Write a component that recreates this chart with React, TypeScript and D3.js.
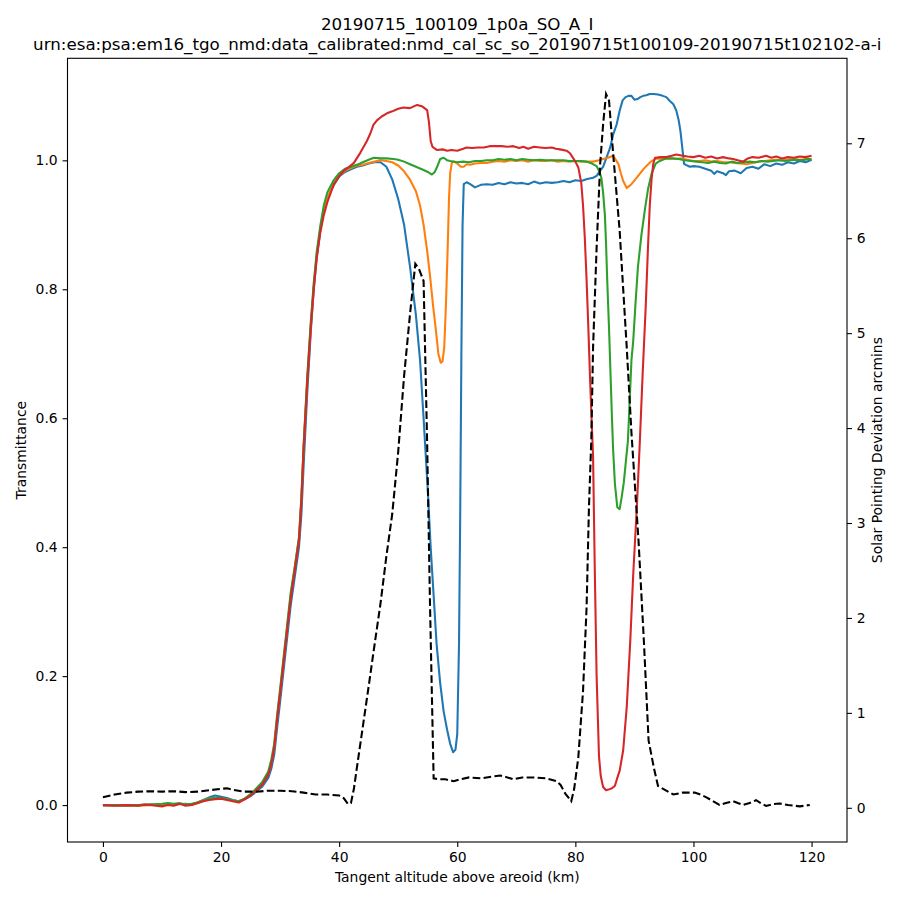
import { useEffect, useRef } from "react";
import * as d3 from "d3";

type Pt = [number, number];

// transmittance, bin 1 (blue)
const blueSeries: Pt[] = [
  [0, 0.0], [2, 0.0], [4, -0.001], [6, 0.0], [8, 0.001], [10, 0.0], [12, 0.001], [14, 0.002], [15, 0.001],
  [16, 0.004], [17, 0.008], [18, 0.012], [19, 0.015], [20, 0.013], [21, 0.011], [22, 0.008], [23, 0.006],
  [24, 0.009], [25, 0.014], [26, 0.021], [27, 0.029], [28, 0.042], [28.5, 0.056], [29, 0.078], [29.5, 0.12],
  [30, 0.16], [30.6, 0.21], [31.2, 0.26], [31.8, 0.31], [32.5, 0.355], [33.2, 0.4], [33.6, 0.45], [34, 0.53],
  [34.6, 0.64], [35.2, 0.735], [35.7, 0.8], [36.2, 0.85], [36.8, 0.89], [37.4, 0.92], [38, 0.94], [39, 0.96],
  [40, 0.975], [41, 0.982], [42, 0.986], [43, 0.99], [44, 0.992], [45, 0.995], [46, 0.997], [47, 0.997],
  [48, 0.99], [49, 0.97], [50, 0.94], [51, 0.9], [52, 0.835], [53, 0.76], [53.7, 0.69], [54.3, 0.6],
  [55, 0.49], [55.5, 0.4], [56, 0.325], [56.5, 0.25], [57.1, 0.19], [57.7, 0.145], [58.3, 0.116],
  [58.8, 0.095], [59.3, 0.082], [59.7, 0.086], [60, 0.11], [60.3, 0.25], [60.5, 0.45], [60.7, 0.7],
  [60.9, 0.9], [61.1, 0.963], [61.6, 0.966], [62.2, 0.963], [63, 0.958], [63.5, 0.96], [64, 0.962],
  [65, 0.963], [66, 0.962], [67, 0.965], [68, 0.963], [69, 0.966], [70, 0.964], [71, 0.965], [72, 0.963],
  [73, 0.967], [74, 0.964], [75, 0.966], [76, 0.965], [77, 0.966], [78, 0.968], [79, 0.966], [80, 0.969],
  [81, 0.968], [82, 0.971], [83, 0.973], [83.6, 0.976], [84.2, 0.984], [84.7, 0.99], [85.3, 1.005],
  [85.9, 1.02], [86.4, 1.04], [87, 1.056], [87.5, 1.077], [88, 1.093], [88.5, 1.098], [89, 1.1], [89.5, 1.1],
  [90, 1.094], [90.5, 1.095], [91, 1.098], [91.5, 1.1], [92, 1.101], [92.6, 1.103], [93.2, 1.103],
  [94, 1.102], [94.8, 1.1], [95.4, 1.098], [96, 1.092], [96.6, 1.087], [97.1, 1.077], [97.5, 1.062],
  [97.8, 1.045], [98.1, 1.02], [98.4, 0.995], [98.7, 0.993], [99.4, 0.99], [100, 0.991], [101, 0.99],
  [102, 0.987], [103, 0.984], [103.5, 0.979], [104, 0.983], [105, 0.98], [105.5, 0.977], [106, 0.983],
  [107, 0.984], [108, 0.98], [109, 0.988], [110, 0.99], [111, 0.987], [112, 0.994], [113, 0.991],
  [114, 0.995], [115, 0.993], [116, 0.997], [117, 0.995], [118, 0.999], [119, 0.997], [120, 1.001],
];

// transmittance, bin 2 (orange)
const orangeSeries: Pt[] = [
  [0, 0.0], [2, 0.0], [4, 0.0], [6, -0.001], [8, 0.0], [10, 0.001], [12, 0.0], [13, 0.002], [14, 0.001],
  [15, 0.0], [16, 0.004], [17, 0.007], [18, 0.01], [19, 0.011], [20, 0.01], [21, 0.009], [22, 0.007],
  [23, 0.006], [24, 0.01], [25, 0.016], [26, 0.024], [27, 0.033], [28, 0.048], [28.5, 0.065], [29, 0.09],
  [29.5, 0.135], [30, 0.175], [30.6, 0.225], [31.2, 0.275], [31.8, 0.325], [32.5, 0.37], [33.2, 0.415],
  [33.6, 0.475], [34, 0.56], [34.6, 0.66], [35.2, 0.745], [35.7, 0.805], [36.2, 0.852], [36.8, 0.892],
  [37.4, 0.922], [38, 0.942], [39, 0.962], [40, 0.976], [41, 0.984], [42, 0.988], [43, 0.992], [44, 0.993],
  [45, 0.996], [46, 0.998], [47, 1.0], [48, 0.999], [49, 0.997], [50, 0.992], [51, 0.983], [52, 0.97],
  [53, 0.952], [53.7, 0.93], [54.3, 0.9], [54.9, 0.86], [55.4, 0.82], [55.9, 0.775], [56.4, 0.735],
  [56.8, 0.7], [57.2, 0.686], [57.5, 0.688], [57.8, 0.71], [58.1, 0.78], [58.4, 0.87], [58.6, 0.94],
  [58.8, 0.98], [59.1, 0.997], [59.5, 0.998], [60, 0.995], [60.6, 0.99], [61.1, 0.99], [61.6, 0.994],
  [62.2, 0.993], [63, 0.995], [64, 0.996], [65, 0.996], [66, 0.998], [67, 0.999], [68, 0.998], [69, 1.0],
  [70, 0.999], [71, 1.0], [72, 0.998], [73, 1.0], [74, 0.999], [75, 0.999], [76, 1.0], [77, 0.998],
  [78, 0.999], [79, 0.998], [80, 0.999], [81, 0.998], [82, 0.998], [83, 0.998], [84, 1.0], [84.7, 1.002],
  [85.5, 1.004], [86.4, 1.007], [86.9, 1.0], [87.3, 0.994], [87.7, 0.98], [88.1, 0.968], [88.7, 0.957],
  [89.1, 0.96], [89.5, 0.963], [90.2, 0.971], [90.9, 0.979], [91.5, 0.986], [92, 0.991], [92.8, 0.998],
  [93.7, 1.003], [95, 1.002], [96, 1.003], [97, 1.002], [98, 1.003], [99, 1.001], [100, 0.999],
  [101, 0.999], [102, 1.0], [103, 0.998], [104, 0.999], [105, 0.997], [106, 0.997], [107, 0.996],
  [108, 0.995], [109, 0.994], [110, 0.996], [111, 0.998], [112, 0.999], [113, 1.0], [114, 1.001],
  [115, 1.0], [116, 1.001], [117, 1.002], [118, 1.001], [119, 1.002], [120, 1.002],
];

// transmittance, bin 3 (green)
const greenSeries: Pt[] = [
  [0, 0.0], [2, 0.0], [4, 0.0], [6, 0.0], [8, 0.001], [10, 0.002], [11, 0.003], [12, 0.002], [13, 0.003],
  [14, 0.001], [15, 0.002], [16, 0.004], [17, 0.007], [18, 0.01], [19, 0.011], [20, 0.011], [21, 0.009],
  [22, 0.007], [23, 0.006], [24, 0.01], [25, 0.017], [26, 0.026], [27, 0.036], [28, 0.052], [28.5, 0.07],
  [29, 0.095], [29.5, 0.14], [30, 0.18], [30.6, 0.23], [31.2, 0.28], [31.8, 0.33], [32.5, 0.37],
  [33.2, 0.415], [33.6, 0.475], [34, 0.56], [34.6, 0.665], [35.2, 0.75], [35.7, 0.81], [36.2, 0.858],
  [36.8, 0.898], [37.4, 0.93], [38, 0.95], [39, 0.968], [40, 0.98], [41, 0.987], [42, 0.99], [43, 0.993],
  [44, 0.997], [45, 1.001], [45.9, 1.004], [47, 1.003], [48, 1.003], [49.2, 1.002], [50, 1.001],
  [51, 0.998], [52, 0.994], [53, 0.99], [54.3, 0.985], [55, 0.982], [55.7, 0.978], [56.2, 0.982],
  [56.6, 0.99], [57.1, 1.002], [57.7, 1.004], [58.3, 1.0], [58.8, 0.999], [60, 0.997], [61, 0.998],
  [62, 0.997], [63, 0.999], [64, 0.999], [65, 1.0], [66, 1.0], [67, 1.002], [68, 1.001], [69, 1.002],
  [70, 1.0], [71, 1.002], [72, 1.001], [73, 1.0], [74, 1.001], [75, 1.0], [76, 1.0], [77, 1.0], [78, 1.0],
  [79, 0.999], [80, 0.999], [81, 0.999], [81.9, 0.998], [82.8, 0.995], [83.6, 0.991], [84.1, 0.982],
  [84.4, 0.973], [84.7, 0.95], [85.0, 0.915], [85.2, 0.87], [85.4, 0.813], [85.7, 0.74], [85.9, 0.684],
  [86.2, 0.6], [86.4, 0.55], [86.7, 0.498], [87.1, 0.462], [87.5, 0.459], [87.8, 0.475], [88.2, 0.5],
  [88.9, 0.565], [89.5, 0.69], [89.8, 0.72], [90.2, 0.78], [90.6, 0.835], [91.2, 0.885], [91.8, 0.925],
  [92.3, 0.955], [92.9, 0.979], [93.6, 0.995], [94.3, 0.999], [95.4, 1.003], [96.6, 1.003], [97.5, 1.002],
  [98.5, 1.0], [99.5, 0.999], [100.5, 0.998], [101.5, 0.997], [102.5, 0.996], [103.5, 0.998],
  [104.5, 0.996], [105.5, 0.995], [106.5, 0.998], [107.5, 0.996], [108.5, 0.997], [109.5, 0.998],
  [110.5, 0.997], [111.5, 0.999], [112.5, 0.998], [113.5, 0.999], [114.5, 1.0], [115.5, 0.999],
  [116.5, 1.0], [117.5, 1.001], [118.5, 1.0], [119.5, 1.002], [120, 1.001],
];

// transmittance, bin 4 (red)
const redSeries: Pt[] = [
  [0, 0.0], [2, -0.001], [4, 0.0], [6, -0.001], [7, 0.001], [8, 0.0], [9, -0.001], [10, -0.002], [11, 0.0],
  [12, -0.001], [13, 0.002], [14, -0.001], [15, 0.0], [16, 0.003], [17, 0.006], [18, 0.008], [19, 0.009],
  [20, 0.01], [21, 0.008], [22, 0.006], [23, 0.004], [24, 0.009], [25, 0.015], [26, 0.023], [27, 0.032],
  [28, 0.047], [28.5, 0.063], [29, 0.088], [29.5, 0.133], [30, 0.173], [30.6, 0.222], [31.2, 0.272],
  [31.8, 0.32], [32.5, 0.365], [33.2, 0.41], [33.6, 0.47], [34, 0.555], [34.6, 0.655], [35.2, 0.74],
  [35.7, 0.8], [36.2, 0.848], [36.8, 0.888], [37.4, 0.915], [38, 0.935], [39.1, 0.963], [40, 0.975],
  [40.8, 0.984], [41.7, 0.99], [42.5, 0.996], [43.6, 1.012], [44.7, 1.03], [45.3, 1.042], [45.8, 1.055],
  [46.4, 1.062], [47.2, 1.068], [48.1, 1.073], [49, 1.076], [50, 1.08], [50.9, 1.082], [52, 1.081],
  [53.2, 1.086], [54, 1.084], [54.9, 1.078], [55.2, 1.06], [55.5, 1.03], [55.8, 1.021], [56.6, 1.016],
  [57.5, 1.017], [58.3, 1.015], [59, 1.016], [60, 1.015], [61, 1.018], [61.6, 1.02], [62.5, 1.019],
  [63.5, 1.02], [64.5, 1.02], [65.5, 1.022], [66.5, 1.022], [67.5, 1.022], [68.5, 1.021], [69.5, 1.022],
  [70.5, 1.019], [71.2, 1.021], [72, 1.018], [73, 1.021], [74, 1.02], [75, 1.019], [76, 1.02],
  [76.7, 1.018], [77.4, 1.017], [78.5, 1.015], [79.1, 1.011], [80, 0.998], [80.5, 0.989], [81, 0.965],
  [81.3, 0.93], [81.6, 0.88], [81.9, 0.815], [82.2, 0.74], [82.5, 0.658], [83.0, 0.54], [83.3, 0.36],
  [83.6, 0.2], [84.0, 0.076], [84.3, 0.045], [84.7, 0.028], [85.2, 0.023], [85.6, 0.024], [86.2, 0.026],
  [86.7, 0.03], [87.2, 0.045], [87.5, 0.053], [88.1, 0.085], [88.7, 0.152], [89.3, 0.255], [89.8, 0.358],
  [90.4, 0.46], [90.9, 0.56], [91.4, 0.67], [91.9, 0.77], [92.3, 0.865], [92.6, 0.93], [92.9, 0.97],
  [93.2, 0.995], [93.5, 1.004], [94.5, 1.005], [95.4, 1.005], [96.3, 1.007], [97.1, 1.009], [98.2, 1.007],
  [99, 1.006], [100, 1.005], [101, 1.007], [102, 1.004], [103, 1.006], [104, 1.003], [105, 1.005],
  [106, 1.003], [106.7, 1.002], [107.5, 1.0], [108.4, 0.998], [109.2, 1.003], [110, 1.005], [111, 1.004],
  [112.3, 1.007], [113.2, 1.004], [114, 1.006], [115, 1.003], [116, 1.005], [117, 1.004], [118, 1.006],
  [119, 1.005], [120, 1.007],
];

// solar pointing deviation (arcmins), right axis
const pointingSeries: Pt[] = [
  [0, 0.11], [2, 0.14], [4, 0.16], [6, 0.17], [8, 0.175], [10, 0.17], [12, 0.175], [14, 0.165], [16, 0.17],
  [18, 0.185], [20, 0.2], [21, 0.205], [22, 0.19], [24, 0.17], [26, 0.17], [28, 0.18], [30, 0.18],
  [32, 0.175], [34, 0.16], [36, 0.14], [38, 0.14], [40, 0.13], [40.8, 0.1], [41.5, 0.04], [42, 0.05],
  [42.5, 0.2], [43, 0.42], [44, 0.85], [45, 1.28], [46, 1.72], [47, 2.15], [48, 2.65], [49, 3.1],
  [50, 3.75], [51, 4.55], [52, 5.2], [52.9, 5.73], [53.5, 5.68], [54.3, 5.55], [54.9, 3.85], [55.4, 2.1],
  [56.0, 0.31], [57, 0.3], [58, 0.3], [59.4, 0.28], [60.5, 0.3], [62, 0.32], [64, 0.31], [66, 0.33],
  [67.3, 0.34], [68.5, 0.32], [69.5, 0.3], [71, 0.32], [73, 0.32], [75, 0.31], [76.8, 0.28], [77.5, 0.24],
  [78.3, 0.15], [79.3, 0.07], [79.8, 0.2], [80.5, 0.53], [81.3, 1.23], [81.9, 2.11], [82.3, 3.16],
  [82.7, 3.87], [83.0, 4.85], [83.6, 5.9], [84.2, 6.78], [84.7, 7.2], [85.2, 7.52], [85.7, 7.45],
  [86.4, 6.89], [87.5, 6.08], [88.7, 4.85], [89.5, 3.95], [90.7, 2.81], [91.6, 1.76], [92.4, 0.71],
  [93.3, 0.42], [94, 0.23], [95.4, 0.18], [96.6, 0.14], [98.2, 0.16], [100.2, 0.16], [101.2, 0.14],
  [102.2, 0.11], [103.3, 0.07], [104.4, 0.03], [105.5, 0.05], [106.7, 0.07], [107.5, 0.05], [108.4, 0.03],
  [109.5, 0.05], [110.6, 0.08], [111.4, 0.05], [112.3, 0.02], [113.5, 0.04], [114.6, 0.045], [116, 0.03],
  [118, 0.015], [119.7, 0.03],
];

const xTicks = [0, 20, 40, 60, 80, 100, 120];
const leftTicks = [0, 0.2, 0.4, 0.6, 0.8, 1.0];
const rightTicks = [0, 1, 2, 3, 4, 5, 6, 7];

const titleLines = [
  "20190715_100109_1p0a_SO_A_I",
  "urn:esa:psa:em16_tgo_nmd:data_calibrated:nmd_cal_sc_so_20190715t100109-20190715t102102-a-i",
];
const xLabel = "Tangent altitude above areoid (km)";
const leftLabel = "Transmittance";
const rightLabel = "Solar Pointing Deviation arcmins";

const font = "DejaVu Sans";

// matplotlib-style autoscale: 5% margin on each side
function padded(vals: number[]): [number, number] {
  const [a, b] = d3.extent(vals) as [number, number];
  const p = (b - a) * 0.05;
  return [a - p, b + p];
}

export default function App() {
  const svgRef = useRef<SVGSVGElement>(null);

  useEffect(() => {
    const svg = d3.select(svgRef.current);
    svg.selectAll("*").remove();

    const left = 67.5, right = 847, top = 58.3, bottom = 842;

    const trans = [blueSeries, orangeSeries, greenSeries, redSeries];
    const x = d3.scaleLinear()
      .domain(padded(trans.flat().map((d) => d[0])))
      .range([left, right]);
    const y0 = d3.scaleLinear()
      .domain(padded(trans.flat().map((d) => d[1])))
      .range([bottom, top]);
    const y1 = d3.scaleLinear()
      .domain(padded(pointingSeries.map((d) => d[1])))
      .range([bottom, top]);

    svg.append("rect").attr("width", 900).attr("height", 900).attr("fill", "#fff");

    const styleAxis = (g) => {
      g.select(".domain").remove();
      g.selectAll("line").attr("stroke", "#000").attr("stroke-width", 1.1);
      g.selectAll("text")
        .attr("fill", "#000")
        .attr("font-family", font)
        .attr("font-size", 13.9);
    };

    svg.append("g")
      .attr("transform", `translate(0, ${bottom})`)
      .call(d3.axisBottom(x).tickValues(xTicks).tickSize(4.9).tickSizeOuter(0).tickPadding(4.9).tickFormat(d3.format("d")))
      .call(styleAxis);

    svg.append("g")
      .attr("transform", `translate(${left}, 0)`)
      .call(d3.axisLeft(y0).tickValues(leftTicks).tickSize(4.9).tickSizeOuter(0).tickPadding(4.9).tickFormat(d3.format(".1f")))
      .call(styleAxis);

    svg.append("g")
      .attr("transform", `translate(${right}, 0)`)
      .call(d3.axisRight(y1).tickValues(rightTicks).tickSize(4.9).tickSizeOuter(0).tickPadding(4.9).tickFormat(d3.format("d")))
      .call(styleAxis);

    // the lines
    const colors = ["#1f77b4", "#ff7f0e", "#2ca02c", "#d62728"];
    const line0 = d3.line<Pt>().x((d) => x(d[0])).y((d) => y0(d[1]));
    trans.forEach((s, i) => {
      svg.append("path")
        .attr("fill", "none")
        .attr("stroke", colors[i])
        .attr("stroke-width", 2.08)
        .attr("stroke-linejoin", "round")
        .attr("d", line0(s));
    });

    const line1 = d3.line<Pt>().x((d) => x(d[0])).y((d) => y1(d[1]));
    svg.append("path")
      .attr("fill", "none")
      .attr("stroke", "#000")
      .attr("stroke-width", 2.08)
      .attr("stroke-dasharray", "7.7 3.3")
      .attr("d", line1(pointingSeries));

    // spines
    svg.append("rect")
      .attr("x", left).attr("y", top)
      .attr("width", right - left).attr("height", bottom - top)
      .attr("fill", "none").attr("stroke", "#000").attr("stroke-width", 1.1);

    // labels
    svg.append("text")
      .attr("x", (left + right) / 2).attr("y", 882)
      .attr("text-anchor", "middle")
      .attr("font-family", font).attr("font-size", 13.9)
      .text(xLabel);

    svg.append("text")
      .attr("transform", `translate(26, ${(top + bottom) / 2}) rotate(-90)`)
      .attr("text-anchor", "middle")
      .attr("font-family", font).attr("font-size", 13.9)
      .text(leftLabel);

    svg.append("text")
      .attr("transform", `translate(882, ${(top + bottom) / 2}) rotate(-90)`)
      .attr("text-anchor", "middle")
      .attr("font-family", font).attr("font-size", 13.9)
      .text(rightLabel);

    titleLines.forEach((t, i) => {
      svg.append("text")
        .attr("x", (left + right) / 2).attr("y", 30 + i * 20)
        .attr("text-anchor", "middle")
        .attr("font-family", font).attr("font-size", 16.7)
        .text(t);
    });
  }, []);

  return (
    <svg
      ref={svgRef}
      width={900}
      height={900}
      style={{ position: "absolute", left: 0, top: 0, display: "block" }}
    />
  );
}
